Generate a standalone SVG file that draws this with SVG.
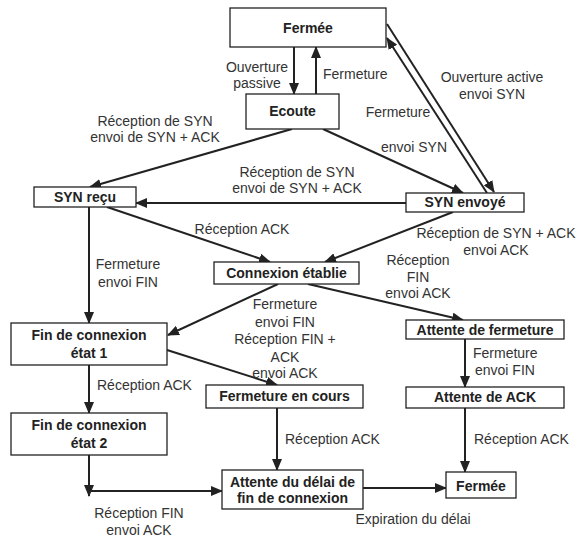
<svg xmlns="http://www.w3.org/2000/svg" width="578" height="537" viewBox="0 0 578 537">
<style>
.box{fill:#fff;stroke:#222;stroke-width:1.3}
.bt{font-family:"Liberation Sans",Arial,sans-serif;font-size:14px;font-weight:bold;fill:#222;text-anchor:middle}
.lb{font-family:"Liberation Sans",Arial,sans-serif;font-size:14px;fill:#333;text-anchor:middle}
.ls{font-family:"Liberation Sans",Arial,sans-serif;font-size:14px;fill:#333;text-anchor:start}
.c{stroke:#222;stroke-width:2;fill:none;marker-end:url(#ah)}
.cn{stroke:#222;stroke-width:2;fill:none}
</style>
<defs>
<marker id="ah" markerUnits="userSpaceOnUse" viewBox="0 0 12 10" markerWidth="12" markerHeight="10" refX="11" refY="5" orient="auto">
<path d="M0,0 L12,5 L0,10 z" fill="#222"/>
</marker>
</defs>
<rect width="578" height="537" fill="#fff"/>
<g id="connectors">
<line class="c" x1="294" y1="47" x2="294" y2="94"/>
<line class="c" x1="316" y1="94" x2="316" y2="47"/>
<line class="c" x1="292" y1="129" x2="90" y2="187"/>
<line class="c" x1="323" y1="129" x2="463" y2="193"/>
<line class="c" x1="387" y1="24" x2="494" y2="192"/>
<line class="c" x1="487" y1="193" x2="387" y2="38"/>
<line class="c" x1="406" y1="203" x2="136" y2="203"/>
<line class="c" x1="107" y1="207" x2="270" y2="262"/>
<line class="c" x1="453" y1="212" x2="325" y2="262"/>
<line class="c" x1="308" y1="284" x2="463" y2="320"/>
<line class="c" x1="278" y1="284" x2="168" y2="335"/>
<line class="c" x1="89" y1="207" x2="89" y2="323"/>
<line class="c" x1="167" y1="350" x2="277" y2="385"/>
<line class="c" x1="89" y1="365" x2="89" y2="413"/>
<line class="c" x1="89" y1="455" x2="89" y2="496"/>
<line class="c" x1="89" y1="491" x2="222" y2="491"/>
<line class="c" x1="277" y1="408" x2="277" y2="470"/>
<line class="c" x1="465" y1="339" x2="465" y2="387"/>
<line class="c" x1="465" y1="408" x2="465" y2="472"/>
<line class="c" x1="363" y1="488" x2="446" y2="488"/>
</g>
<g id="labels">
<text class="lb" x="257" y="72">Ouverture</text>
<text class="lb" x="257" y="88">passive</text>
<text class="ls" x="323" y="79">Fermeture</text>
<text class="lb" x="492" y="82">Ouverture active</text>
<text class="lb" x="492" y="99">envoi SYN</text>
<text class="lb" x="398" y="117">Fermeture</text>
<text class="lb" x="155" y="126">Réception de SYN</text>
<text class="lb" x="155" y="142">envoi de SYN + ACK</text>
<text class="lb" x="414" y="152">envoi SYN</text>
<text class="lb" x="297" y="177">Réception de SYN</text>
<text class="lb" x="297" y="193">envoi de SYN + ACK</text>
<text class="lb" x="242" y="234">Réception ACK</text>
<text class="lb" x="496" y="238">Réception de SYN + ACK</text>
<text class="lb" x="496" y="255">envoi ACK</text>
<text class="lb" x="128" y="269">Fermeture</text>
<text class="lb" x="128" y="287">envoi FIN</text>
<text class="lb" x="418" y="265">Réception</text>
<text class="lb" x="418" y="282">FIN</text>
<text class="lb" x="418" y="298">envoi ACK</text>
<text class="lb" x="285" y="309">Fermeture</text>
<text class="lb" x="285" y="327">envoi FIN</text>
<text class="lb" x="285" y="344">Réception FIN +</text>
<text class="lb" x="285" y="362">ACK</text>
<text class="lb" x="285" y="378">envoi ACK</text>
<text class="ls" x="473" y="358">Fermeture</text>
<text class="ls" x="475" y="375">envoi FIN</text>
<text class="ls" x="97" y="390">Réception ACK</text>
<text class="ls" x="285" y="444">Réception ACK</text>
<text class="ls" x="474" y="444">Réception ACK</text>
<text class="lb" x="139" y="518">Réception FIN</text>
<text class="lb" x="139" y="535">envoi ACK</text>
<text class="lb" x="413" y="524">Expiration du délai</text>
</g>
<g id="n-fermee"><rect class="box" x="230" y="8" width="156" height="39"/><text class="bt" x="308" y="33">Fermée</text></g>
<g id="n-ecoute"><rect class="box" x="246" y="94" width="93" height="35"/><text class="bt" x="292.5" y="116">Ecoute</text></g>
<g id="n-syn-envoye"><rect class="box" x="406" y="193" width="118" height="19"/><text class="bt" x="465" y="207">SYN envoyé</text></g>
<g id="n-syn-recu"><rect class="box" x="34" y="187" width="102" height="20"/><text class="bt" x="85" y="202">SYN reçu</text></g>
<g id="n-connexion"><rect class="box" x="214" y="262" width="145" height="22"/><text class="bt" x="286.5" y="278">Connexion établie</text></g>
<g id="n-attente-fermeture"><rect class="box" x="406" y="320" width="158" height="19"/><text class="bt" x="485" y="335">Attente de fermeture</text></g>
<g id="n-fin1"><rect class="box" x="11" y="323" width="156" height="42"/><text class="bt" x="89" y="340">Fin de connexion</text><text class="bt" x="89" y="358">état 1</text></g>
<g id="n-fin2"><rect class="box" x="11" y="413" width="156" height="42"/><text class="bt" x="89" y="430">Fin de connexion</text><text class="bt" x="89" y="448">état 2</text></g>
<g id="n-fermeture-cours"><rect class="box" x="206" y="385" width="157" height="23"/><text class="bt" x="284.5" y="401">Fermeture en cours</text></g>
<g id="n-attente-ack"><rect class="box" x="406" y="387" width="158" height="21"/><text class="bt" x="485" y="402">Attente de ACK</text></g>
<g id="n-attente-delai"><rect class="box" x="222" y="470" width="141" height="39"/><text class="bt" x="292.5" y="487">Attente du délai de</text><text class="bt" x="292.5" y="503">fin de connexion</text></g>
<g id="n-fermee2"><rect class="box" x="446" y="472" width="70" height="26"/><text class="bt" x="481" y="491">Fermée</text></g>
</svg>
